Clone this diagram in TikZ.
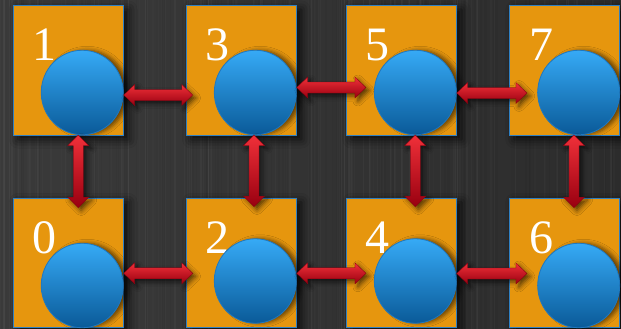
\documentclass[tikz,border=0pt]{standalone}
\usepackage{fontspec}
\setmainfont{Liberation Serif}
\usetikzlibrary{calc,shapes.geometric,shadows.blur}
\definecolor{bgl}{HTML}{3A3A3A}
\definecolor{bgm}{HTML}{464646}
\definecolor{bgr}{HTML}{2C2C2C}
\definecolor{boxorange}{HTML}{E6960E}
\definecolor{boxblue}{HTML}{2F7FC1}
\definecolor{ballt}{HTML}{36AAF6}
\definecolor{ballm}{HTML}{148CE0}
\definecolor{ballb}{HTML}{0A5A98}
\definecolor{ballline}{HTML}{1F78C0}
\definecolor{redt}{HTML}{F03039}
\definecolor{redb}{HTML}{980010}
\definecolor{redline}{HTML}{8A0010}
\newcommand\hfat[2]{\path[fatarrow] let \p1=#1, \p2=#2 in
  (\x1,\y1) -- (\x1+11pt,\y1+10.5pt) -- (\x1+11pt,\y1+5.5pt) -- (\x2-11pt,\y1+5.5pt)
  -- (\x2-11pt,\y1+10.5pt) -- (\x2,\y1) -- (\x2-11pt,\y1-10.5pt) -- (\x2-11pt,\y1-5.5pt)
  -- (\x1+11pt,\y1-5.5pt) -- (\x1+11pt,\y1-10.5pt) -- cycle;}
\newcommand\vfat[2]{\path[fatarrow] let \p1=#1, \p2=#2 in
  (\x1,\y1) -- (\x1+10.5pt,\y1-10.5pt) -- (\x1+5pt,\y1-10.5pt) -- (\x1+5pt,\y2+10.5pt)
  -- (\x1+10.5pt,\y2+10.5pt) -- (\x1,\y2) -- (\x1-10.5pt,\y2+10.5pt) -- (\x1-5pt,\y2+10.5pt)
  -- (\x1-5pt,\y1-10.5pt) -- (\x1-10.5pt,\y1-10.5pt) -- cycle;}
\tikzset{
  box/.style={rectangle, fill=boxorange, draw=boxblue, line width=1.1pt,
    minimum width=110, minimum height=129.5, inner sep=0,
    blur shadow={shadow xshift=5pt, shadow yshift=-4pt, shadow blur radius=9pt, shadow opacity=80}},
  ball/.style={ellipse, minimum width=82, minimum height=84.5, inner sep=0,
    top color=ballt, middle color=ballm, bottom color=ballb, draw=ballline, line width=0.8pt,
    blur shadow={shadow xshift=5pt, shadow yshift=0pt, shadow blur radius=4pt, shadow opacity=55}},
  num/.style={text=white, font=\fontsize{48}{48}\selectfont, inner sep=0, anchor=base},
  fatarrow/.style={top color=redt, bottom color=redb, draw=redline, line width=0.3pt,
    blur shadow={shadow xshift=3pt, shadow yshift=-3pt, shadow blur radius=5pt, shadow opacity=65}}
}
\begin{document}
\begin{tikzpicture}[x=1pt,y=-1pt]
\useasboundingbox (0,0) rectangle (621,329);
\shade[left color=bgl, middle color=bgm, right color=bgr] (0,0) rectangle (621,329);
\pgfmathsetseed{11}
\foreach \i in {1,...,140}{
  \pgfmathsetmacro\xx{rnd*621}
  \pgfmathsetmacro\ww{0.4+rnd*1.6}
  \pgfmathsetmacro\oo{0.01+rnd*0.025}
  \draw[white, opacity=\oo, line width=\ww pt] (\xx,0) -- (\xx,329);
}
\foreach \i in {1,...,100}{
  \pgfmathsetmacro\xx{rnd*621}
  \pgfmathsetmacro\ww{0.4+rnd*1.6}
  \draw[black, opacity=0.035, line width=\ww pt] (\xx,0) -- (\xx,329);
}
% boxes
\node[box] (b1) at (68.25,70.5) {};
\node[box] (b3) at (241.3,70.5) {};
\node[box] (b5) at (401.5,70.5) {};
\node[box] (b7) at (564.5,70.5) {};
\node[box] (b0) at (68.25,263) {};
\node[box] (b2) at (241.3,263) {};
\node[box] (b4) at (401.5,263) {};
\node[box] (b6) at (564.5,263) {};
% numbers
\node[num] (n1) at (44,61) {1};
\node[num] (n3) at (217,61) {3};
\node[num] (n5) at (377.5,61) {5};
\node[num] (n7) at (541,61) {7};
\node[num] (n0) at (44,253.5) {0};
\node[num] (n2) at (217,253.5) {2};
\node[num] (n4) at (377.5,253.5) {4};
\node[num] (n6) at (541,253.5) {6};
% circles
\node[ball] (c1) at (82.25,92.5) {};
\node[ball] (c3) at (255.3,92.5) {};
\node[ball] (c5) at (415.3,92.5) {};
\node[ball] (c7) at (578.7,92.5) {};
\node[ball] (c0) at (82.25,285.5) {};
\node[ball] (c2) at (255.3,281) {};
\node[ball] (c4) at (415.3,281) {};
\node[ball] (c6) at (578.7,285.5) {};
% horizontal arrows
\hfat{($(c1.east)+(0,2.5)$)}{($(c1.east -| b3.west)+(7,2.5)$)}
\hfat{($(c3.east)+(0,-5)$)}{($(c3.east -| b5.west)+(20,-5)$)}
\hfat{($(c5.east)+(0,0.5)$)}{($(c5.east -| b7.west)+(18,0.5)$)}
\hfat{($(c0.east)+(0,-12.2)$)}{($(c0.east -| b2.west)+(7,-12.2)$)}
\hfat{($(c2.east)+(0,-7.7)$)}{($(c2.east -| b4.west)+(20,-7.7)$)}
\hfat{($(c4.east)+(0,-7.5)$)}{($(c4.east -| b6.west)+(18,-7.5)$)}
% vertical arrows
\vfat{($(c1.south)+(-4,0)$)}{($(c1.south |- b0.north)+(-4,10)$)}
\vfat{($(c3.south)+(-1.3,0)$)}{($(c3.south |- b2.north)+(-1.3,9)$)}
\vfat{($(c5.south)+(0,0)$)}{($(c5.south |- b4.north)+(0,9)$)}
\vfat{($(c7.south)+(-4.7,0)$)}{($(c7.south |- b6.north)+(-4.7,10)$)}
\end{tikzpicture}
\end{document}
